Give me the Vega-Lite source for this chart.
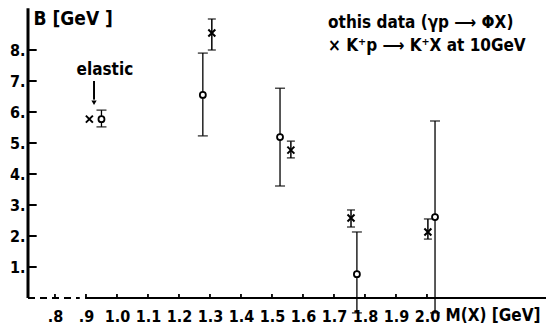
{
  "$schema": "https://vega.github.io/schema/vega-lite/v6.json",
  "width": 518,
  "height": 298,
  "autosize": {"type": "none"},
  "padding": {"left": 28, "top": 0, "right": 0, "bottom": 37},
  "background": "white",
  "config": {
    "view": {"stroke": null},
    "font": "DejaVu Sans Condensed",
    "text": {"font": "DejaVu Sans Condensed", "fontWeight": "bold", "color": "black"}
  },
  "datasets": {
    "phi": [
      {"M": 0.950, "B": 5.77, "lo": 5.52, "hi": 6.06},
      {"M": 1.277, "B": 6.55, "lo": 5.23, "hi": 7.90},
      {"M": 1.526, "B": 5.19, "lo": 3.61, "hi": 6.77},
      {"M": 1.774, "B": 0.77, "lo": -0.48, "hi": 2.13},
      {"M": 2.026, "B": 2.61, "lo": -0.48, "hi": 5.71}
    ],
    "kp": [
      {"M": 0.911, "B": 5.77, "lo": 5.77, "hi": 5.77},
      {"M": 1.306, "B": 8.55, "lo": 8.0, "hi": 9.0},
      {"M": 1.561, "B": 4.77, "lo": 4.52, "hi": 5.06},
      {"M": 1.755, "B": 2.58, "lo": 2.29, "hi": 2.84},
      {"M": 2.003, "B": 2.13, "lo": 1.90, "hi": 2.55}
    ],
    "xticks": [
      {"M": 0.8}, {"M": 0.9}, {"M": 1.0}, {"M": 1.1}, {"M": 1.2}, {"M": 1.3}, {"M": 1.4},
      {"M": 1.5}, {"M": 1.6}, {"M": 1.7}, {"M": 1.8}, {"M": 1.9}, {"M": 2.0}
    ],
    "yticks": [
      {"B": 1}, {"B": 2}, {"B": 3}, {"B": 4}, {"B": 5}, {"B": 6}, {"B": 7}, {"B": 8}
    ],
    "one": [{}]
  },
  "layer": [
    {
      "data": {"name": "xticks"},
      "mark": {"type": "rule", "color": "black", "strokeWidth": 1.8},
      "encoding": {
        "x": {
          "field": "M", "type": "quantitative",
          "scale": {"domain": [0.713, 2.384], "nice": false, "zero": false},
          "axis": {
            "values": [0.8, 0.9, 1.0, 1.1, 1.2, 1.3, 1.4, 1.5, 1.6, 1.7, 1.8, 1.9, 2.0],
            "labelExpr": "datum.value < 1 ? replace(format(datum.value, '.1f'), '0.', '.') : format(datum.value, '.1f')",
            "domain": false, "ticks": false, "grid": false,
            "labelFont": "DejaVu Sans Condensed",
            "labelFontWeight": "bold", "labelFontSize": 16, "labelColor": "black",
            "labelPadding": 10, "labelFlush": false, "labelOverlap": false,
            "title": "M(X) [GeV]",
            "titleFont": "DejaVu Sans Condensed",
            "titleFontWeight": "bold", "titleFontSize": 17, "titleColor": "black",
            "titleX": 417, "titleY": 17, "titleAlign": "left", "titleBaseline": "middle", "titleAnchor": "start"
          }
        },
        "y": {
          "datum": 0, "type": "quantitative",
          "scale": {"domain": [0, 9.613], "nice": false, "zero": false},
          "axis": {
            "values": [1, 2, 3, 4, 5, 6, 7, 8],
            "labelExpr": "datum.value + '.'",
            "domain": false, "ticks": false, "grid": false,
            "labelFont": "DejaVu Sans Condensed",
            "labelFontWeight": "bold", "labelFontSize": 16, "labelColor": "black",
            "labelPadding": 3, "labelFlush": false, "labelOverlap": false,
            "title": "B [GeV ]",
            "titleFont": "DejaVu Sans Condensed",
            "titleFontWeight": "bold", "titleFontSize": 19, "titleColor": "black",
            "titleAngle": 0, "titleX": 5, "titleY": 18, "titleAlign": "left", "titleBaseline": "middle", "titleAnchor": "start"
          }
        },
        "y2": {"datum": 0.13}
      }
    },
    {
      "data": {"name": "one"},
      "mark": {"type": "rule", "color": "black", "strokeWidth": 3},
      "encoding": {
        "x": {"datum": 0.713, "type": "quantitative"},
        "y": {"datum": 0, "type": "quantitative"},
        "y2": {"datum": 9.35}
      }
    },
    {
      "data": {"name": "yticks"},
      "mark": {"type": "rule", "color": "black", "strokeWidth": 2},
      "encoding": {
        "x": {"datum": 0.713, "type": "quantitative"},
        "x2": {"datum": 0.741},
        "y": {"field": "B", "type": "quantitative"}
      }
    },
    {
      "data": {"name": "one"},
      "mark": {"type": "rule", "color": "black", "strokeWidth": 2},
      "encoding": {
        "x": {"datum": 0.897, "type": "quantitative"},
        "x2": {"datum": 2.384},
        "y": {"datum": 0, "type": "quantitative"}
      }
    },
    {
      "data": {"name": "one"},
      "mark": {"type": "rule", "color": "black", "strokeWidth": 2, "strokeDash": [7, 5]},
      "encoding": {
        "x": {"datum": 0.713, "type": "quantitative"},
        "x2": {"datum": 0.88},
        "y": {"datum": 0, "type": "quantitative"}
      }
    },
    {
      "data": {"name": "phi"},
      "mark": {"type": "rule", "color": "black", "strokeWidth": 1.3},
      "encoding": {
        "x": {"field": "M", "type": "quantitative"},
        "y": {"field": "lo", "type": "quantitative"},
        "y2": {"field": "hi"}
      }
    },
    {
      "data": {"name": "phi"},
      "mark": {"type": "tick", "orient": "horizontal", "color": "black", "size": 10, "thickness": 1.5},
      "encoding": {
        "x": {"field": "M", "type": "quantitative"},
        "y": {"field": "lo", "type": "quantitative"}
      }
    },
    {
      "data": {"name": "phi"},
      "mark": {"type": "tick", "orient": "horizontal", "color": "black", "size": 10, "thickness": 1.5},
      "encoding": {
        "x": {"field": "M", "type": "quantitative"},
        "y": {"field": "hi", "type": "quantitative"}
      }
    },
    {
      "data": {"name": "kp"},
      "transform": [{"filter": "datum.hi > datum.lo"}],
      "mark": {"type": "rule", "color": "black", "strokeWidth": 1.5},
      "encoding": {
        "x": {"field": "M", "type": "quantitative"},
        "y": {"field": "lo", "type": "quantitative"},
        "y2": {"field": "hi"}
      }
    },
    {
      "data": {"name": "kp"},
      "transform": [{"filter": "datum.hi > datum.lo"}],
      "mark": {"type": "tick", "orient": "horizontal", "color": "black", "size": 8, "thickness": 1.5},
      "encoding": {
        "x": {"field": "M", "type": "quantitative"},
        "y": {"field": "lo", "type": "quantitative"}
      }
    },
    {
      "data": {"name": "kp"},
      "transform": [{"filter": "datum.hi > datum.lo"}],
      "mark": {"type": "tick", "orient": "horizontal", "color": "black", "size": 8, "thickness": 1.5},
      "encoding": {
        "x": {"field": "M", "type": "quantitative"},
        "y": {"field": "hi", "type": "quantitative"}
      }
    },
    {
      "data": {"name": "phi"},
      "mark": {"type": "point", "shape": "circle", "filled": false, "fill": "white", "fillOpacity": 1, "stroke": "black", "strokeWidth": 1.8, "size": 36, "opacity": 1},
      "encoding": {
        "x": {"field": "M", "type": "quantitative"},
        "y": {"field": "B", "type": "quantitative"}
      }
    },
    {
      "data": {"name": "kp"},
      "mark": {"type": "point", "shape": "M-1,-1L1,1M1,-1L-1,1", "filled": false, "stroke": "black", "strokeWidth": 2, "size": 49, "opacity": 1},
      "encoding": {
        "x": {"field": "M", "type": "quantitative"},
        "y": {"field": "B", "type": "quantitative"}
      }
    },
    {
      "data": {"name": "one"},
      "mark": {"type": "rule", "color": "black", "strokeWidth": 2},
      "encoding": {
        "x": {"datum": 0.926, "type": "quantitative"},
        "y": {"datum": 7.0, "type": "quantitative"},
        "y2": {"datum": 6.4}
      }
    },
    {
      "data": {"name": "one"},
      "mark": {"type": "point", "shape": "triangle-down", "filled": true, "color": "black", "size": 28, "opacity": 1},
      "encoding": {
        "x": {"datum": 0.926, "type": "quantitative"},
        "y": {"datum": 6.3, "type": "quantitative"}
      }
    },
    {
      "data": {"name": "one"},
      "mark": {"type": "text", "text": "elastic", "align": "center", "baseline": "middle", "fontSize": 17},
      "encoding": {
        "x": {"datum": 0.961, "type": "quantitative"},
        "y": {"datum": 7.35, "type": "quantitative"}
      }
    },
    {
      "data": {"name": "one"},
      "mark": {"type": "text", "text": "othis data (γp ⟶ ΦX)", "align": "left", "baseline": "middle", "fontSize": 17},
      "encoding": {
        "x": {"datum": 1.681, "type": "quantitative"},
        "y": {"datum": 8.87, "type": "quantitative"}
      }
    },
    {
      "data": {"name": "one"},
      "mark": {"type": "text", "text": "× K⁺p ⟶ K⁺X at 10GeV", "align": "left", "baseline": "middle", "fontSize": 17},
      "encoding": {
        "x": {"datum": 1.681, "type": "quantitative"},
        "y": {"datum": 8.12, "type": "quantitative"}
      }
    }
  ]
}
